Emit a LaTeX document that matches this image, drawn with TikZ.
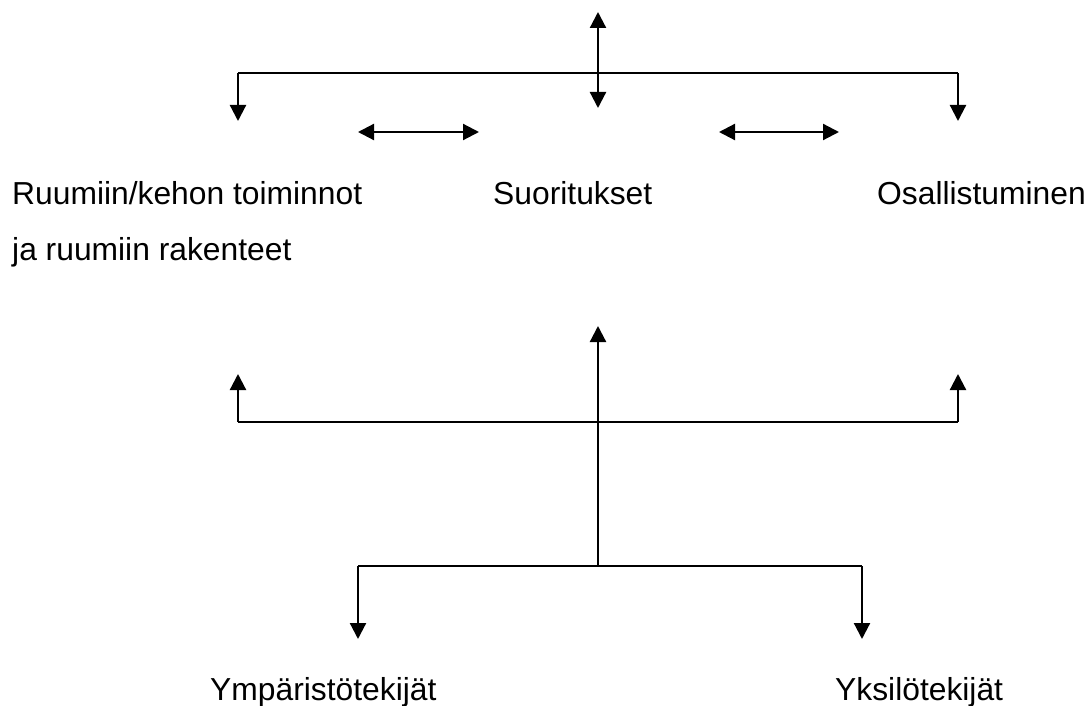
\documentclass[tikz,border=0pt]{standalone}
\usepackage{fontspec}
\setmainfont{Liberation Sans}
\usetikzlibrary{arrows.meta}
\begin{document}
\begin{tikzpicture}[x=1pt,y=-1pt,
  bar/.style={line width=1.5pt},
  shaft/.style={line width=2.2pt,-{Triangle[length=16pt,width=16pt]}},
  twoway/.style={line width=2.2pt,{Triangle[length=16pt,width=16pt]}-{Triangle[length=16pt,width=16pt]}},
  lbl/.style={anchor=base west,inner sep=0pt,font=\fontsize{31.8}{36}\selectfont}]
\useasboundingbox (0,0) rectangle (1088,706);

% upper tier: components
\coordinate (topUp) at (598,12);
\coordinate (topDown) at (598,108);
\coordinate (busL) at (238,73);
\coordinate (busR) at (958,73);
\coordinate (dropL) at (238,121);
\coordinate (dropR) at (958,121);
\draw[twoway] (topDown) -- (topUp);
\draw[bar] (busL) -- (busR);
\draw[shaft] (busL) -- (dropL);
\draw[shaft] (busR) -- (dropR);

\coordinate (linkAl) at (358,132);
\coordinate (linkAr) at (479,132);
\coordinate (linkBl) at (719,132);
\coordinate (linkBr) at (839,132);
\draw[twoway] (linkAl) -- (linkAr);
\draw[twoway] (linkBl) -- (linkBr);

\node[lbl] (body) at (12,205) {Ruumiin/kehon toiminnot};
\node[lbl] (body2) at (12,260) {ja ruumiin rakenteet};
\node[lbl] (act) at (493,205) {Suoritukset};
\node[lbl] (part) at (877,205) {Osallistuminen};

% middle tier: context feeds upward
\coordinate (midTop) at (598,326);
\coordinate (midBus) at (598,422);
\coordinate (midL) at (238,422);
\coordinate (midR) at (958,422);
\coordinate (midLup) at (238,374);
\coordinate (midRup) at (958,374);
\coordinate (lowBus) at (598,566);
\draw[bar] (midL) -- (midR);
\draw[shaft] (midL) -- (midLup);
\draw[shaft] (midR) -- (midRup);
\draw[shaft] (lowBus) -- (midTop);

% lower tier: contextual factors
\coordinate (lowL) at (358,566);
\coordinate (lowR) at (862,566);
\coordinate (lowLd) at (358,639);
\coordinate (lowRd) at (862,639);
\draw[bar] (lowL) -- (lowR);
\draw[shaft] (lowL) -- (lowLd);
\draw[shaft] (lowR) -- (lowRd);

\node[lbl] (env) at (210,700) {Ympäristötekijät};
\node[lbl] (pers) at (835,700) {Yksilötekijät};
\end{tikzpicture}
\end{document}
